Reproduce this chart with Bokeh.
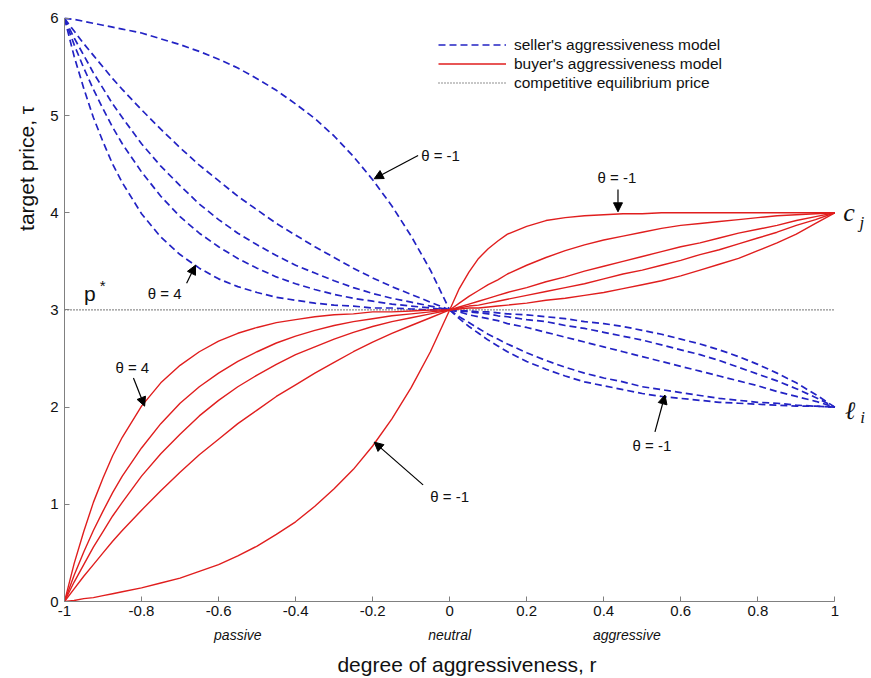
import math
from bokeh.plotting import figure
from bokeh.models import (Range1d, FixedTicker, Label, Arrow, NormalHead,
                          Legend, LegendItem, LinearAxis)
from bokeh.embed import file_html
from bokeh.resources import INLINE

# ---------------- data ----------------
r_left = [-1, -0.975, -0.95, -0.925, -0.9, -0.875, -0.85, -0.8, -0.75, -0.7, -0.65, -0.6,
          -0.55, -0.5, -0.45, -0.4, -0.35, -0.3, -0.25, -0.2, -0.15, -0.1, -0.05, 0]
r_right = [0, 0.025, 0.05, 0.075, 0.1, 0.125, 0.15, 0.2, 0.25, 0.3, 0.35, 0.4,
           0.45, 0.5, 0.55, 0.6, 0.65, 0.7, 0.75, 0.8, 0.85, 0.9, 0.95, 1]

# seller (dashed blue), r < 0 : from 6 down to p* = 3 (top curve theta=-1, bottom theta=4)
seller_left = [
    [6, 5.99, 5.97, 5.95, 5.93, 5.91, 5.89, 5.85, 5.79, 5.73, 5.66, 5.58, 5.49, 5.38, 5.26, 5.12, 4.97, 4.79, 4.58, 4.34, 4.07, 3.76, 3.41, 3],
    [6, 5.87, 5.74, 5.62, 5.50, 5.38, 5.27, 5.06, 4.86, 4.67, 4.49, 4.33, 4.17, 4.03, 3.89, 3.77, 3.65, 3.54, 3.43, 3.33, 3.24, 3.16, 3.08, 3],
    [6, 5.80, 5.62, 5.44, 5.28, 5.12, 4.98, 4.71, 4.48, 4.28, 4.09, 3.93, 3.79, 3.67, 3.56, 3.46, 3.38, 3.30, 3.23, 3.17, 3.12, 3.08, 3.04, 3],
    [6, 5.73, 5.49, 5.27, 5.07, 4.88, 4.71, 4.42, 4.17, 3.96, 3.79, 3.65, 3.53, 3.43, 3.34, 3.27, 3.21, 3.16, 3.12, 3.09, 3.06, 3.04, 3.02, 3],
    [6, 5.61, 5.28, 4.98, 4.73, 4.50, 4.31, 3.99, 3.75, 3.57, 3.43, 3.32, 3.24, 3.18, 3.13, 3.10, 3.07, 3.05, 3.04, 3.02, 3.02, 3.01, 3.00, 3],
]
# seller, r > 0 : from p* = 3 down to l_i = 2 (bottom curve theta=-1)
seller_right = [
    [3, 2.91, 2.83, 2.76, 2.69, 2.63, 2.57, 2.47, 2.39, 2.32, 2.26, 2.22, 2.18, 2.14, 2.11, 2.09, 2.07, 2.05, 2.04, 2.03, 2.02, 2.01, 2.01, 2],
    [3, 2.93, 2.87, 2.81, 2.75, 2.70, 2.65, 2.56, 2.48, 2.41, 2.35, 2.30, 2.26, 2.21, 2.18, 2.15, 2.12, 2.09, 2.07, 2.05, 2.04, 2.02, 2.01, 2],
    [3, 2.98, 2.95, 2.93, 2.91, 2.89, 2.86, 2.82, 2.77, 2.72, 2.67, 2.62, 2.57, 2.52, 2.47, 2.42, 2.37, 2.32, 2.27, 2.22, 2.16, 2.11, 2.06, 2],
    [3, 2.99, 2.98, 2.97, 2.96, 2.94, 2.93, 2.90, 2.88, 2.84, 2.81, 2.77, 2.73, 2.69, 2.64, 2.59, 2.54, 2.48, 2.41, 2.34, 2.27, 2.19, 2.10, 2],
    [3, 2.99, 2.99, 2.98, 2.98, 2.97, 2.96, 2.95, 2.93, 2.91, 2.88, 2.86, 2.83, 2.79, 2.75, 2.70, 2.65, 2.59, 2.52, 2.44, 2.35, 2.25, 2.13, 2],
]
# buyer (solid red), r < 0 : from 0 up to p* = 3 (top curve theta=4, bottom theta=-1)
buyer_left = [
    [0, 0.39, 0.72, 1.02, 1.27, 1.50, 1.69, 2.01, 2.25, 2.43, 2.57, 2.68, 2.76, 2.82, 2.87, 2.90, 2.93, 2.95, 2.96, 2.98, 2.98, 2.99, 3.00, 3],
    [0, 0.27, 0.51, 0.73, 0.93, 1.12, 1.29, 1.58, 1.83, 2.04, 2.21, 2.35, 2.47, 2.57, 2.66, 2.73, 2.79, 2.84, 2.88, 2.91, 2.94, 2.96, 2.98, 3],
    [0, 0.20, 0.38, 0.56, 0.72, 0.88, 1.02, 1.29, 1.52, 1.72, 1.91, 2.07, 2.21, 2.33, 2.44, 2.54, 2.62, 2.70, 2.77, 2.83, 2.88, 2.92, 2.96, 3],
    [0, 0.13, 0.26, 0.38, 0.50, 0.62, 0.73, 0.94, 1.14, 1.33, 1.51, 1.67, 1.83, 1.97, 2.11, 2.23, 2.35, 2.46, 2.57, 2.67, 2.76, 2.84, 2.92, 3],
    [0, 0.01, 0.03, 0.04, 0.06, 0.08, 0.10, 0.14, 0.19, 0.24, 0.31, 0.38, 0.47, 0.57, 0.69, 0.82, 0.98, 1.16, 1.36, 1.60, 1.88, 2.20, 2.57, 3],
]
# buyer, r > 0 : from p* = 3 up to c_j = 4 (top curve theta=-1)
buyer_right = [
    [3, 3.22, 3.39, 3.53, 3.63, 3.71, 3.78, 3.86, 3.92, 3.95, 3.97, 3.98, 3.99, 3.99, 4.00, 4.00, 4.00, 4.00, 4.00, 4.00, 4.00, 4.00, 4.00, 4],
    [3, 3.07, 3.14, 3.20, 3.26, 3.31, 3.37, 3.46, 3.54, 3.61, 3.67, 3.72, 3.76, 3.80, 3.84, 3.87, 3.89, 3.91, 3.93, 3.95, 3.97, 3.98, 3.99, 4],
    [3, 3.03, 3.06, 3.09, 3.12, 3.15, 3.18, 3.23, 3.29, 3.34, 3.40, 3.45, 3.50, 3.55, 3.60, 3.65, 3.69, 3.74, 3.79, 3.83, 3.87, 3.92, 3.96, 4],
    [3, 3.02, 3.04, 3.05, 3.07, 3.09, 3.11, 3.15, 3.19, 3.23, 3.27, 3.32, 3.37, 3.41, 3.46, 3.51, 3.57, 3.62, 3.68, 3.74, 3.80, 3.87, 3.93, 4],
    [3, 3.01, 3.02, 3.02, 3.03, 3.04, 3.05, 3.07, 3.10, 3.12, 3.15, 3.18, 3.22, 3.26, 3.30, 3.35, 3.41, 3.47, 3.53, 3.61, 3.69, 3.78, 3.89, 4],
]
eq_x = [-1, 1]
eq_y = [3, 3]

x_ticks = [-1, -0.8, -0.6, -0.4, -0.2, 0, 0.2, 0.4, 0.6, 0.8, 1]
x_tick_labels = ["-1", "-0.8", "-0.6", "-0.4", "-0.2", "0", "0.2", "0.4", "0.6", "0.8", "1"]
y_ticks = [0, 1, 2, 3, 4, 5, 6]
region_pos = [-0.55, 0, 0.46]
region_names = ["passive", "neutral", "aggressive"]

legend_labels = ["seller's aggressiveness model", "buyer's aggressiveness model",
                 "competitive equilibrium price"]

# ---------------- styling ----------------
BLUE = "#2323c4"
RED = "#e01e1e"
FONT = "Liberation Sans"
TXT = "#111111"

p = figure(width=871, height=678, x_range=Range1d(-1, 1.09), y_range=Range1d(0, 6.03),
           output_backend="svg", toolbar_location=None,
           min_border_left=63, min_border_right=2, min_border_top=15, min_border_bottom=76)
p.outline_line_color = None
p.xgrid.visible = False
p.ygrid.visible = False
p.background_fill_color = "white"
p.border_fill_color = "white"

for ax in (p.xaxis[0], p.yaxis[0]):
    ax.axis_line_color = "#808080"
    ax.major_tick_line_color = "#808080"
    ax.major_tick_in = 5
    ax.major_tick_out = 0
    ax.minor_tick_line_color = None
    ax.major_label_text_font = FONT
    ax.major_label_text_font_size = "15px"
    ax.major_label_text_color = TXT

p.xaxis.ticker = FixedTicker(ticks=x_ticks)
p.xaxis.major_label_overrides = {t: s for t, s in zip(x_ticks, x_tick_labels)}
p.xaxis.bounds = (-1, 1)
p.xaxis.major_label_standoff = 4
p.yaxis.ticker = FixedTicker(ticks=y_ticks)
p.yaxis.bounds = (0, 6)
p.yaxis.major_label_standoff = 6

# second bottom axis: region words + axis title
ax2 = LinearAxis(ticker=FixedTicker(ticks=region_pos),
                 major_label_overrides={t: s for t, s in zip(region_pos, region_names)},
                 axis_line_color=None, major_tick_line_color=None, minor_tick_line_color=None,
                 major_label_text_font=FONT, major_label_text_font_size="14px",
                 major_label_text_font_style="italic", major_label_text_color=TXT,
                 major_label_standoff=2,
                 axis_label="degree of aggressiveness, r", axis_label_standoff=7,
                 axis_label_text_font=FONT, axis_label_text_font_size="21px",
                 axis_label_text_font_style="normal", axis_label_text_color=TXT)
p.add_layout(ax2, "below")

# second left axis: the y title placed near the top, as in the original
ay2 = LinearAxis(ticker=FixedTicker(ticks=[5.1]),
                 major_label_overrides={5.1: "target price, \u03c4"},
                 major_label_orientation=math.pi / 2,
                 axis_line_color=None, major_tick_line_color=None, minor_tick_line_color=None,
                 major_label_text_font=FONT, major_label_text_font_size="21px",
                 major_label_text_color=TXT, major_label_standoff=15)
p.add_layout(ay2, "left")

eq = p.line(eq_x, eq_y, line_color="#222222", line_width=1.2, line_dash="1 2")

seller_renderers = []
for ys in seller_left:
    seller_renderers.append(p.line(r_left, ys, line_color=BLUE, line_width=1.7, line_dash="7 4"))
for ys in seller_right:
    seller_renderers.append(p.line(r_right, ys, line_color=BLUE, line_width=1.7, line_dash="7 4"))
buyer_renderers = []
for ys in buyer_left:
    buyer_renderers.append(p.line(r_left, ys, line_color=RED, line_width=1.4))
for ys in buyer_right:
    buyer_renderers.append(p.line(r_right, ys, line_color=RED, line_width=1.4))

legend = Legend(items=[LegendItem(label=legend_labels[0], renderers=[seller_renderers[0]]),
                       LegendItem(label=legend_labels[1], renderers=[buyer_renderers[0]]),
                       LegendItem(label=legend_labels[2], renderers=[eq])],
                location=(374, 509), orientation="vertical",
                glyph_width=68, glyph_height=19, label_height=19, label_standoff=8,
                spacing=0, padding=0, margin=0,
                border_line_alpha=0, background_fill_alpha=0,
                label_text_font=FONT, label_text_font_size="15.5px", label_text_color=TXT)
p.add_layout(legend, "center")


def add_label(x, y, text, size="15px", font=FONT, style="normal", angle=0.0,
              align="center", baseline="middle"):
    p.add_layout(Label(x=x, y=y, text=text, text_font=font, text_font_size=size,
                       text_font_style=style, angle=angle, text_align=align,
                       text_baseline=baseline, text_color=TXT))


def add_arrow(x0, y0, x1, y1):
    p.add_layout(Arrow(end=NormalHead(size=9, fill_color="black", line_color="black"),
                       x_start=x0, y_start=y0, x_end=x1, y_end=y1,
                       line_color="black", line_width=1.2))


# theta annotations
add_label(-0.074, 4.59, "\u03b8 = -1", align="left")
add_arrow(-0.082, 4.59, -0.196, 4.35)
add_label(-0.74, 3.17, "\u03b8 = 4")
add_arrow(-0.683, 3.275, -0.660, 3.46)
add_label(0.434, 4.36, "\u03b8 = -1")
add_arrow(0.437, 4.24, 0.437, 4.01)
add_label(0.525, 1.61, "\u03b8 = -1")
add_arrow(0.533, 1.745, 0.559, 2.125)
add_label(-0.824, 2.41, "\u03b8 = 4")
add_arrow(-0.821, 2.30, -0.792, 2.01)
add_label(0.0, 1.08, "\u03b8 = -1")
add_arrow(-0.069, 1.20, -0.196, 1.64)

# p*, c_j, l_i
add_label(-0.934, 3.17, "p", size="21px")
add_label(-0.901, 3.25, "*", size="15px")
add_label(1.037, 4.0, "c", size="26px", font="Liberation Serif", style="italic")
add_label(1.070, 3.90, "j", size="17px", font="Liberation Serif", style="italic")
add_label(1.039, 1.97, "\u2113", size="25px", font="DejaVu Serif", style="italic")
add_label(1.072, 1.89, "i", size="17px", font="Liberation Serif", style="italic")

open("out.html", "w").write(file_html(p, INLINE))
